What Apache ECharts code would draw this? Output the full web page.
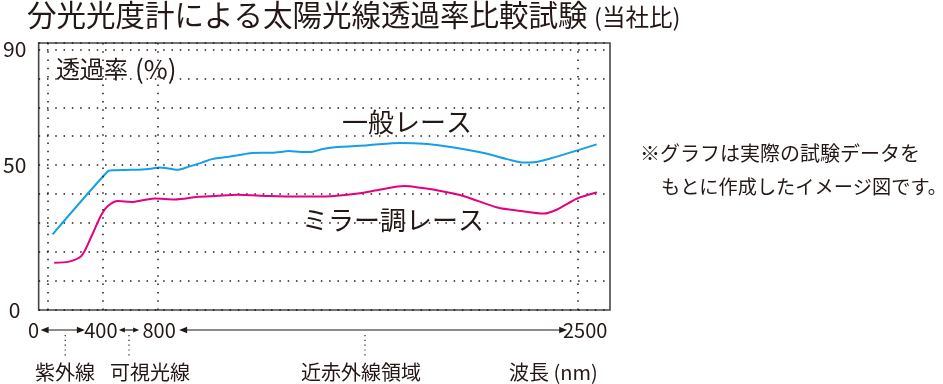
<!DOCTYPE html>
<html>
<head>
<meta charset="utf-8">
<script src="https://cdn.jsdelivr.net/npm/echarts@6/dist/echarts.min.js"></script>
<style>
html,body{margin:0;padding:0;background:#fff;}
#main{width:943px;height:384px;}
</style>
</head>
<body>
<div id="main"></div>
<script>
// ---- chart data ----
const chartTitle = '分光光度計による太陽光線透過率比較試験';
const chartTitleNote = '(当社比)';
const yAxisName = '透過率';
const yAxisUnit = '(%)';
const yTickLabels = [0, 50, 90];
const wavelengthBreaks = [0, 400, 800, 2500];        // nm, tick positions of the broken x-axis
const breakUnits = [0, 1, 2, 9.6];                   // axis units for each break
const xTickLabels = ['0', '400', '800', '2500'];
const regionLabels = ['紫外線', '可視光線', '近赤外線領域'];
const xAxisName = '波長 (nm)';
const seriesNames = ['一般レース', 'ミラー調レース'];
const footnote = ['※グラフは実際の試験データを', 'もとに作成したイメージ図です。'];

const generalNm  = [36, 436, 470, 600, 684, 760, 803, 850, 877, 924, 977, 1018, 1085, 1123, 1179, 1259, 1300, 1327, 1380, 1420, 1461, 1514, 1649, 1783, 1891, 1984, 2118, 2213, 2280, 2320, 2387, 2500, 2575];
const generalVal = [26.1, 47.9, 48.3, 48.4, 48.5, 48.9, 49.2, 48.8, 48.4, 49.5, 50.9, 52.1, 52.9, 53.4, 54.2, 54.3, 54.6, 54.9, 54.6, 54.6, 55.5, 56.2, 56.9, 57.7, 57.3, 56.3, 54.2, 52.1, 50.9, 51.0, 52.3, 55.2, 57.2];
const mirrorNm   = [48, 155, 245, 316, 388, 436, 509, 606, 700, 776, 867, 961, 1032, 1122, 1246, 1367, 1501, 1608, 1702, 1796, 1863, 1944, 2038, 2173, 2267, 2361, 2415, 2496, 2576];
const mirrorVal  = [16.3, 16.7, 18.7, 25.3, 32.8, 35.9, 37.6, 37.3, 38.0, 38.5, 38.2, 39.1, 39.4, 39.8, 39.4, 39.2, 39.3, 40.2, 41.6, 42.8, 42.2, 41.1, 39.3, 35.4, 34.2, 33.3, 34.7, 38.5, 40.6];

// ---- broken-axis scale: nm -> axis units ----
function toAxis(nm) {
  let i = 0;
  while (i < wavelengthBreaks.length - 2 && nm > wavelengthBreaks[i + 1]) i++;
  const a = wavelengthBreaks[i], b = wavelengthBreaks[i + 1];
  return breakUnits[i] + (nm - a) / (b - a) * (breakUnits[i + 1] - breakUnits[i]);
}
function pairs(xs, ys) { return xs.map((x, i) => [toAxis(x), ys[i]]); }

const INK = '#231815';
const FONT = '"Noto Sans CJK JP", "Noto Sans", sans-serif';
const dots = [1.5, 6.8];

const chart = echarts.init(document.getElementById('main'), null, {renderer: 'canvas'});
chart.setOption({
  animation: false,
  backgroundColor: '#fff',
  grid: {left: 36, top: 43, width: 574, height: 267, show: true, borderColor: '#4a4543', borderWidth: 1.6, backgroundColor: 'transparent'},
  xAxis: {type: 'value', min: -0.162, max: 10.176, axisLine: {show: false}, axisTick: {show: false}, axisLabel: {show: false}, splitLine: {show: false}},
  yAxis: {
    type: 'value', min: 0, max: 92.2, interval: 10,
    axisLine: {show: false}, axisTick: {show: false},
    axisLabel: {margin: 24, align: 'center', fontSize: 21, fontFamily: FONT, color: INK,
      formatter: v => yTickLabels.indexOf(v) >= 0 ? String(v) : ''},
    splitLine: {show: true, lineStyle: {color: INK, width: 1.5, type: dots}}
  },
  series: [
    {name: seriesNames[0], type: 'line', data: pairs(generalNm, generalVal), smooth: 0.3, symbol: 'none',
      lineStyle: {color: '#14a0e6', width: 2}, z: 3,
      markLine: {silent: true, symbol: ['none', 'none'], label: {show: false},
        lineStyle: {color: INK, width: 1.5, type: dots},
        data: wavelengthBreaks.map(w => ({xAxis: toAxis(w)}))}},
    {name: seriesNames[1], type: 'line', data: pairs(mirrorNm, mirrorVal), smooth: 0.3, symbol: 'none',
      lineStyle: {color: '#e4007f', width: 2}, z: 3}
  ]
});

// ---- annotations positioned from the axis scale ----
const px = wavelengthBreaks.map(w => chart.convertToPixel({xAxisIndex: 0}, toAxis(w)));
const tickY = 330;
function txt(text, x, y, size, align, vAlign) {
  return {type: 'text', x: x, y: y, silent: true,
    style: {text: text, fontSize: size, fontFamily: FONT, fill: INK, align: align || 'left', verticalAlign: vAlign || 'middle'}};
}
function arrow(x1, x2, y, head) {
  const h = head, w = head * 0.4;
  return [
    {type: 'line', silent: true, shape: {x1: x1 + 2, y1: y, x2: x2 - 2, y2: y}, style: {stroke: INK, lineWidth: 1.2}},
    {type: 'polygon', silent: true, shape: {points: [[x1, y], [x1 + h, y - w], [x1 + h, y + w]]}, style: {fill: INK}},
    {type: 'polygon', silent: true, shape: {points: [[x2, y], [x2 - h, y - w], [x2 - h, y + w]]}, style: {fill: INK}}
  ];
}
function vdots(x, y1, y2) {
  return {type: 'line', silent: true, shape: {x1: x, y1: y1, x2: x, y2: y2}, style: {stroke: INK, lineWidth: 1.2, lineDash: [1.2, 3.6]}};
}

const tickOffsets = [-14, -2, 1, 7];
let g = [];
g.push(txt(chartTitle, 27, 15, 29.5, 'left'));
g.push(txt(chartTitleNote, 594, 17, 23.5, 'left'));
g.push(txt(yAxisName, 56, 69, 24, 'left'));
g.push(txt(yAxisUnit, 135, 69, 26, 'left'));
g.push(txt(seriesNames[0], 342, 122, 26, 'left'));
g.push(txt(seriesNames[1], 302, 220, 26, 'left'));
g.push(txt(footnote[0], 640, 153, 20, 'left'));
g.push(txt(footnote[1], 661, 187, 19.2, 'left'));
xTickLabels.forEach((t, i) => g.push(txt(t, px[i] + tickOffsets[i], tickY, 20, 'center')));
g = g.concat(arrow(px[0] - 7, px[1] - 18, tickY, 8));
g = g.concat(arrow(px[1] + 16, px[2] - 19, tickY, 6));
g = g.concat(arrow(px[2] + 21, px[3] - 11, tickY, 8));
const connX = [(px[0] + px[1]) / 2 - 10, (px[1] + px[2]) / 2 - 1.5, 365];
connX.forEach(x => g.push(vdots(x, 335, 356)));
g.push(txt(regionLabels[0], 65, 372, 20, 'center'));
g.push(txt(regionLabels[1], 150, 372, 20, 'center'));
g.push(txt(regionLabels[2], 361, 372, 20, 'center'));
g.push(txt(xAxisName, 509, 372, 20, 'left'));
chart.setOption({graphic: g});
</script>
</body>
</html>
